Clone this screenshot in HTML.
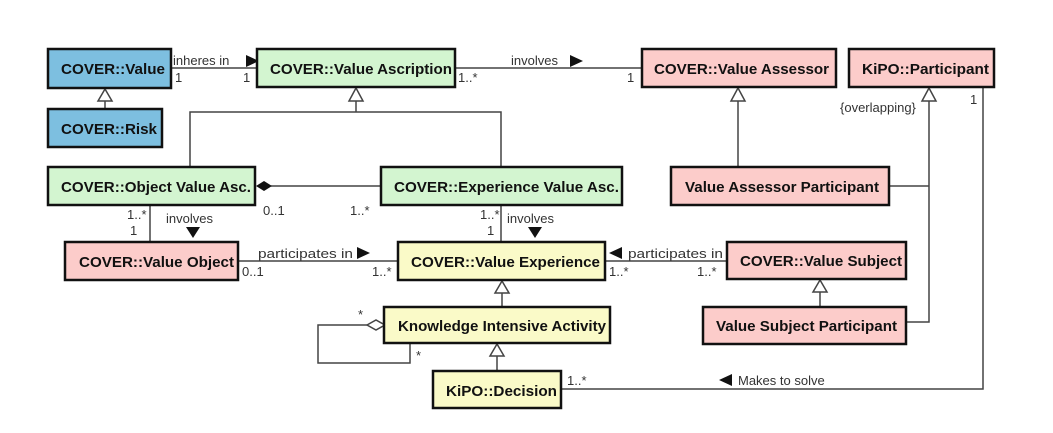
<!DOCTYPE html>
<html><head><style>
html,body{margin:0;padding:0;background:#fff;}
svg{display:block;}
.b{font-family:"Liberation Sans",sans-serif;font-weight:bold;font-size:15px;fill:#111;}
.t{font-family:"Liberation Sans",sans-serif;font-size:13px;fill:#333;}
.box{stroke:#111;stroke-width:2.5;}
.l{stroke:#444;stroke-width:1.5;fill:none;}
</style></head><body>
<svg width="1053" height="433" viewBox="0 0 1053 433" xmlns="http://www.w3.org/2000/svg">
<rect width="1053" height="433" fill="#fff"/>
<g class="l">
<line x1="171" y1="68" x2="257" y2="68"/>
<line x1="455" y1="68" x2="642" y2="68"/>
<line x1="105" y1="101" x2="105" y2="109"/>
<line x1="356" y1="101" x2="356" y2="112"/>
<polyline points="190,167 190,112 501,112 501,167"/>
<line x1="271" y1="186" x2="381" y2="186"/>
<line x1="150" y1="205" x2="150" y2="242"/>
<line x1="501" y1="205" x2="501" y2="242"/>
<line x1="238" y1="261" x2="398" y2="261"/>
<line x1="605" y1="261" x2="727" y2="261"/>
<line x1="502" y1="293" x2="502" y2="307"/>
<line x1="497" y1="356" x2="497" y2="371"/>
<line x1="820" y1="292" x2="820" y2="307"/>
<line x1="738" y1="101" x2="738" y2="167"/>
<polyline points="929,101 929,322 906,322"/>
<line x1="889" y1="186" x2="929" y2="186"/>
<polyline points="983,88 983,389 561,389"/>
<polyline points="367,325 318,325 318,363 410,363 410,343"/>
</g>
<g fill="#fff" stroke="#444" stroke-width="1.5">
<polygon points="105,89 98,101 112,101"/>
<polygon points="356,88 349,101 363,101"/>
<polygon points="738,88 731,101 745,101"/>
<polygon points="929,88 922,101 936,101"/>
<polygon points="502,281 495,293 509,293"/>
<polygon points="497,344 490,356 504,356"/>
<polygon points="820,280 813,292 827,292"/>
<polygon points="367,325 376,320 385,325 376,330"/>
</g>
<polygon points="256,186 264,181 272,186 264,191" fill="#111"/>
<g fill="#111">
<polygon points="246,55 246,67 259,61"/>
<polygon points="570,55 570,67 583,61"/>
<polygon points="186,227 200,227 193,238"/>
<polygon points="528,227 542,227 535,238"/>
<polygon points="357,247 357,259 370,253"/>
<polygon points="622,247 622,259 609,253"/>
<polygon points="732,374 732,386 719,380"/>
</g>
<rect class="box" x="48" y="49" width="123" height="39" fill="#7dbfe0"/>
<rect class="box" x="48" y="109" width="114" height="38" fill="#7dbfe0"/>
<rect class="box" x="257" y="49" width="198" height="38" fill="#d3f5d0"/>
<rect class="box" x="48" y="167" width="207" height="38" fill="#d3f5d0"/>
<rect class="box" x="381" y="167" width="241" height="38" fill="#d3f5d0"/>
<rect class="box" x="642" y="49" width="194" height="38" fill="#fcccca"/>
<rect class="box" x="849" y="49" width="145" height="38" fill="#fcccca"/>
<rect class="box" x="671" y="167" width="218" height="38" fill="#fcccca"/>
<rect class="box" x="65" y="242" width="173" height="38" fill="#fcccca"/>
<rect class="box" x="727" y="242" width="179" height="37" fill="#fcccca"/>
<rect class="box" x="703" y="307" width="203" height="37" fill="#fcccca"/>
<rect class="box" x="398" y="242" width="207" height="38" fill="#fafac8"/>
<rect class="box" x="384" y="307" width="226" height="36" fill="#fafac8"/>
<rect class="box" x="433" y="371" width="128" height="37" fill="#fafac8"/>
<text class="b" x="61" y="74" textLength="104" lengthAdjust="spacingAndGlyphs">COVER::Value</text>
<text class="b" x="61" y="134" textLength="96" lengthAdjust="spacingAndGlyphs">COVER::Risk</text>
<text class="b" x="270" y="74" textLength="182" lengthAdjust="spacingAndGlyphs">COVER::Value Ascription</text>
<text class="b" x="61" y="192" textLength="190" lengthAdjust="spacingAndGlyphs">COVER::Object Value Asc.</text>
<text class="b" x="394" y="192" textLength="225" lengthAdjust="spacingAndGlyphs">COVER::Experience Value Asc.</text>
<text class="b" x="654" y="74" textLength="175" lengthAdjust="spacingAndGlyphs">COVER::Value Assessor</text>
<text class="b" x="862" y="74" textLength="127" lengthAdjust="spacingAndGlyphs">KiPO::Participant</text>
<text class="b" x="685" y="192" textLength="194" lengthAdjust="spacingAndGlyphs">Value Assessor Participant</text>
<text class="b" x="79" y="267" textLength="155" lengthAdjust="spacingAndGlyphs">COVER::Value Object</text>
<text class="b" x="740" y="266" textLength="162" lengthAdjust="spacingAndGlyphs">COVER::Value Subject</text>
<text class="b" x="716" y="331" textLength="181" lengthAdjust="spacingAndGlyphs">Value Subject Participant</text>
<text class="b" x="411" y="267" textLength="189" lengthAdjust="spacingAndGlyphs">COVER::Value Experience</text>
<text class="b" x="398" y="331" textLength="208" lengthAdjust="spacingAndGlyphs">Knowledge Intensive Activity</text>
<text class="b" x="446" y="396" textLength="111" lengthAdjust="spacingAndGlyphs">KiPO::Decision</text>
<text class="t" x="173" y="65">inheres in</text>
<text class="t" x="175" y="82">1</text>
<text class="t" x="243" y="82">1</text>
<text class="t" x="511" y="65">involves</text>
<text class="t" x="458" y="82">1..*</text>
<text class="t" x="627" y="82">1</text>
<text class="t" x="840" y="112">{overlapping}</text>
<text class="t" x="970" y="104">1</text>
<text class="t" x="263" y="215">0..1</text>
<text class="t" x="350" y="215">1..*</text>
<text class="t" x="127" y="219">1..*</text>
<text class="t" x="130" y="235">1</text>
<text class="t" x="166" y="223">involves</text>
<text class="t" x="480" y="219">1..*</text>
<text class="t" x="487" y="235">1</text>
<text class="t" x="507" y="223">involves</text>
<text class="t" x="258" y="258" textLength="95" lengthAdjust="spacingAndGlyphs">participates in</text>
<text class="t" x="242" y="276">0..1</text>
<text class="t" x="372" y="276">1..*</text>
<text class="t" x="628" y="258" textLength="95" lengthAdjust="spacingAndGlyphs">participates in</text>
<text class="t" x="609" y="276">1..*</text>
<text class="t" x="697" y="276">1..*</text>
<text class="t" x="358" y="319">*</text>
<text class="t" x="416" y="360">*</text>
<text class="t" x="567" y="385">1..*</text>
<text class="t" x="738" y="385">Makes to solve</text>
</svg>
</body></html>
